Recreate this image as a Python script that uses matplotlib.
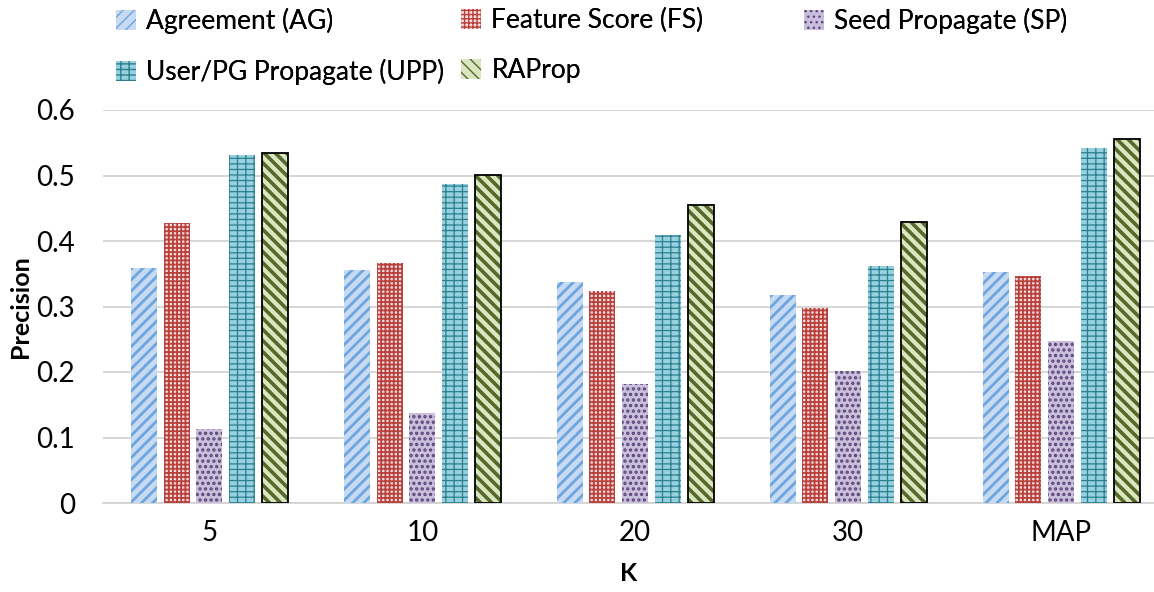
import numpy as np
import matplotlib.pyplot as plt
from matplotlib.ticker import FixedLocator, FixedFormatter

plt.rcParams['font.family'] = ['Lato', 'DejaVu Sans']

# precision at each K
categories = ['5', '10', '20', '30', 'MAP']
series_names = ['Agreement (AG)', 'Feature Score (FS)', 'Seed Propagate (SP)',
                'User/PG Propagate (UPP)', 'RAProp']
ag = [0.359, 0.355, 0.337, 0.317, 0.352]
fs = [0.427, 0.367, 0.323, 0.297, 0.347]
sp = [0.113, 0.137, 0.181, 0.201, 0.248]
upp = [0.532, 0.487, 0.409, 0.362, 0.542]
raprop = [0.535, 0.501, 0.455, 0.429, 0.555]
y_ticks = [0, 0.1, 0.2, 0.3, 0.4, 0.5, 0.6]
y_tick_labels = ['0', '0.1', '0.2', '0.3', '0.4', '0.5', '0.6']

# face colour, hatch colour, hatch pattern, hatch line width
styles = [
    ('#c6daf2', '#6fa5de', '///', 2.0),
    ('#f6dcdb', '#b9413d', '++++', 1.3),
    ('#c9bedb', '#5b4678', '...', 1.6),
    ('#97d0df', '#2c7f8e', '---||', 0.9),
    ('#d9e6c0', '#56692a', '\\\\\\', 2.6),
]

fig = plt.figure(figsize=(11.54, 5.92), dpi=100)
ax = fig.add_axes([103 / 1154, 89 / 592, 1 - 103 / 1154, 393 / 592])

x = np.arange(len(categories))
width = 0.122
pitch = 0.154
handles = []
for i, vals in enumerate([ag, fs, sp, upp, raprop]):
    face, hcol, hatch, hlw = styles[i]
    pos = x + (i - 2) * pitch
    with plt.rc_context({'hatch.linewidth': hlw}):
        bars = ax.bar(pos, vals, width, color=face, edgecolor=hcol, hatch=hatch,
                      linewidth=0, zorder=3)
    if i == 4:
        ax.bar(pos, vals, width, fill=False, edgecolor='black', linewidth=1.3, zorder=4)
    handles.append(bars)

ax.set_xlim(-0.5, (1154 - 209.5) / 212.9)
ax.set_ylim(0, 0.6)
ax.yaxis.set_major_locator(FixedLocator(y_ticks))
ax.yaxis.set_major_formatter(FixedFormatter(y_tick_labels))
ax.set_xticks(x)
ax.set_xticklabels(categories)
ax.tick_params(axis='both', length=0, labelsize=20, colors='black')
ax.tick_params(axis='y', pad=20)
ax.tick_params(axis='x', pad=12)
ax.grid(axis='y', color='#d0d0d0', linewidth=1.2, zorder=0)
for s in ['top', 'right', 'left']:
    ax.spines[s].set_visible(False)
ax.spines['bottom'].set_color('#d0d0d0')
ax.spines['bottom'].set_linewidth(1.2)

ax.set_ylabel('Precision', fontsize=18, fontweight='bold')
ax.yaxis.set_label_coords(-0.068, 0.5)
ax.set_xlabel('K', fontsize=18, fontweight='bold', labelpad=12)

# legend laid out as three columns of equal width
columns = [[0, 3], [1, 4], [2]]
col_x = [116, 461, 804]
for cx, idx in zip(col_x, columns):
    leg = fig.legend([handles[k] for k in idx], [series_names[k] for k in idx],
                     loc='upper left', bbox_to_anchor=(cx / 1154, 1 - 8 / 592),
                     frameon=False, fontsize=19, handlelength=0.75, handleheight=0.75,
                     handletextpad=0.4, labelspacing=0.95, borderaxespad=0,
                     borderpad=0)
    fig.add_artist(leg)

fig.savefig('out.png', dpi=100)
